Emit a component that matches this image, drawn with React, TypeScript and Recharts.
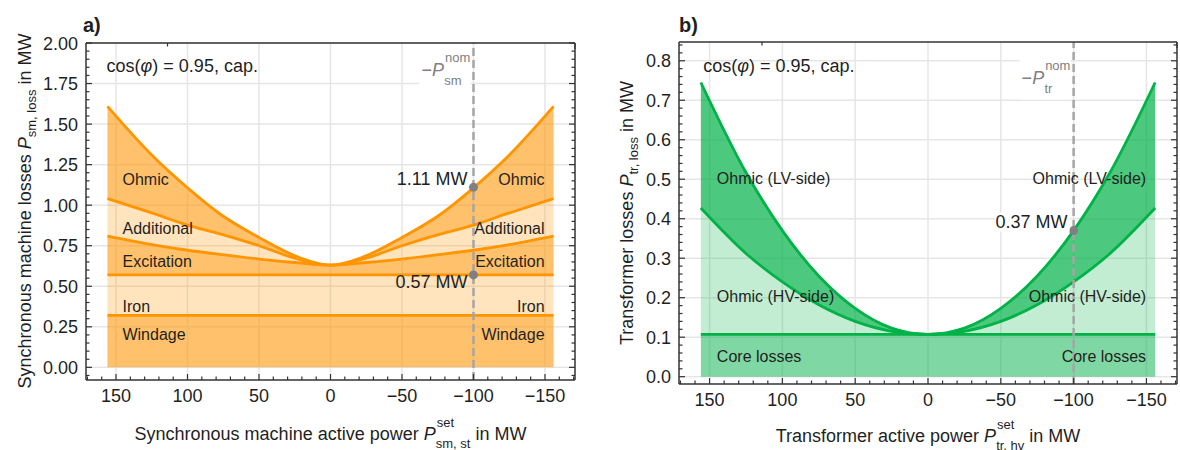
import { Area, AreaChart, CartesianGrid, ReferenceDot, ReferenceLine, XAxis, YAxis } from "recharts";

const FONT = '"Liberation Sans", Arial, Helvetica, sans-serif';
const INK = "#1f1f1f";
const FRAME = "#333333";
const GRID = "#e6e6e6";
const ORANGE = "#ff9500";
const GREEN = "#00b247";
const MARK = "#808080";

// a) synchronous machine losses (MW)
const smPower = [156, 124, 100, 76, 50, 23, 0, -23, -50, -76, -100, -124, -156];
const smWindage = [0.32, 0.32, 0.32, 0.32, 0.32, 0.32, 0.32, 0.32, 0.32, 0.32, 0.32, 0.32, 0.32];
const smIron = [0.25, 0.25, 0.25, 0.25, 0.25, 0.25, 0.25, 0.25, 0.25, 0.25, 0.25, 0.25, 0.25];
const smExcitation = [0.239, 0.185, 0.152, 0.125, 0.098, 0.075, 0.06, 0.075, 0.098, 0.125, 0.152, 0.185, 0.239];
const smAdditional = [0.232, 0.194, 0.155, 0.125, 0.082, 0.023, 0, 0.023, 0.082, 0.125, 0.155, 0.194, 0.232];
const smOhmic = [0.568, 0.351, 0.23, 0.118, 0.051, 0.013, 0, 0.013, 0.051, 0.118, 0.23, 0.351, 0.568];

// b) transformer losses (MW)
const trPower = [156, 125, 100, 75, 50, 25, 0, -25, -50, -75, -100, -125, -156];
const trCore = [0.107, 0.107, 0.107, 0.107, 0.107, 0.107, 0.107, 0.107, 0.107, 0.107, 0.107, 0.107, 0.107];
const trOhmicHv = [0.32, 0.205, 0.133, 0.075, 0.033, 0.008, 0, 0.008, 0.033, 0.075, 0.133, 0.205, 0.32];
const trOhmicLv = [0.318, 0.205, 0.13, 0.073, 0.033, 0.008, 0, 0.008, 0.033, 0.073, 0.13, 0.205, 0.318];

// axes
const xMajor = [150, 100, 50, 0, -50, -100, -150];
const smYMajor = [0, 0.25, 0.5, 0.75, 1, 1.25, 1.5, 1.75, 2];
const trYMajor = [0, 0.1, 0.2, 0.3, 0.4, 0.5, 0.6, 0.7, 0.8];
const nominalPower = -100;
const smNominalLoss = 1.11;
const smNoLoadLoss = 0.57;
const trNominalLoss = 0.37;

const range = (a: number, b: number, step: number) => {
  const out: number[] = [];
  for (let i = 0; a + i * step <= b + 1e-9; i++) out.push(+(a + i * step).toFixed(4));
  return out;
};
const xTicks = range(-170, 170, 10);
const smYTicks = range(-0.05, 2, 0.05);
const trYTicks = range(0, 0.84, 0.02);

const smRows = smPower.map((p, i) => ({
  p,
  windage: smWindage[i],
  iron: smIron[i],
  excitation: smExcitation[i],
  additional: smAdditional[i],
  ohmic: smOhmic[i],
}));

const trRows = trPower.map((p, i) => ({
  p,
  core: trCore[i],
  hv: trOhmicHv[i],
  lv: trOhmicLv[i],
}));

type TickCfg = { side: "bottom" | "top" | "left" | "right"; major: number; digits?: number; text?: boolean };

function renderTick(props: any, cfg: TickCfg) {
  const { x, y, payload } = props;
  const v = payload.value as number;
  const isMajor = Math.abs(v / cfg.major - Math.round(v / cfg.major)) < 1e-6;
  const len = isMajor ? 6 : 3.5;
  const line = { stroke: FRAME, strokeWidth: 1.2 };
  if (cfg.side === "bottom") {
    const label = v < 0 ? "\u2212" + Math.abs(v) : String(v);
    return (
      <g>
        <line x1={x} x2={x} y1={y} y2={y - len} {...line} />
        {cfg.text && isMajor && (
          <text x={x} y={y + 22} textAnchor="middle" fontSize={18} fontFamily={FONT} fill={INK}>
            {label}
          </text>
        )}
      </g>
    );
  }
  if (cfg.side === "top") return <line x1={x} x2={x} y1={y} y2={y + len} {...line} />;
  if (cfg.side === "right") return <line x1={x} x2={x - len} y1={y} y2={y} {...line} />;
  return (
    <g>
      <line x1={x} x2={x + len} y1={y} y2={y} {...line} />
      {cfg.text && isMajor && (
        <text x={x - 8} y={y + 6.5} textAnchor="end" fontSize={18} fontFamily={FONT} fill={INK}>
          {v.toFixed(cfg.digits ?? 2)}
        </text>
      )}
    </g>
  );
}

function centre(viewBox: any) {
  return { cx: viewBox.x + (viewBox.width || 0) / 2, cy: viewBox.y + (viewBox.height || 0) / 2 };
}

function Note(props: any) {
  const { viewBox, t, anchor = "start", ox = 0, oy = 0, size = 16, box = false } = props;
  const { cx, cy } = centre(viewBox);
  const w = t.length * size * 0.56;
  const left = anchor === "end" ? cx + ox - w : cx + ox;
  return (
    <g>
      {box && <rect x={left - 2} y={cy + oy - size * 0.85} width={w + 4} height={size * 1.05} fill="#fff" />}
      <text x={cx + ox} y={cy + oy} textAnchor={anchor} fontSize={size} fontFamily={FONT} fill={INK}>
        {t}
      </text>
    </g>
  );
}

function CosNote(props: any) {
  const { cx, cy } = centre(props.viewBox);
  return (
    <text x={cx} y={cy} fontSize={18} fontFamily={FONT} fill={INK}>
      cos(<tspan fontStyle="italic">φ</tspan>){" = 0.95, cap."}
    </text>
  );
}

function NomNote(props: any) {
  const { viewBox, sub } = props;
  const { cx, cy } = centre(viewBox);
  const x = cx - 52;
  return (
    <g>
      <rect x={x - 2} y={cy - 25} width={51} height={40} fill="#fff" />
      <text x={x} y={cy} fontSize={18} fontFamily={FONT} fill={MARK}>
        {"\u2212"}
        <tspan fontStyle="italic">P</tspan>
        <tspan fontSize={13} dx={1} dy={-14}>
          nom
        </tspan>
        <tspan fontSize={13} dx={-26} dy={22.5}>
          {sub}
        </tspan>
      </text>
    </g>
  );
}

const axisLine = { stroke: FRAME, strokeWidth: 1.5 };
const noDot = { r: 0 };

function MachinePanel() {
  const xDomain = [-171, 171];
  const yDomain = [-0.078, 2];
  return (
    <AreaChart width={598} height={450} data={smRows} margin={{ top: 0, right: 0, bottom: 0, left: 0 }}>
      <CartesianGrid stroke={GRID} strokeWidth={1.5} verticalValues={xMajor} horizontalValues={smYMajor} />
      <XAxis
        dataKey="p"
        type="number"
        domain={xDomain}
        reversed
        allowDataOverflow
        ticks={xTicks}
        interval={0}
        height={70}
        tickSize={0}
        tickMargin={0}
        axisLine={axisLine}
        tickLine={false}
        tick={(p: any) => renderTick(p, { side: "bottom", major: 50, text: true })}
      />
      <XAxis
        xAxisId="top"
        orientation="top"
        type="number"
        domain={xDomain}
        reversed
        allowDataOverflow
        ticks={xTicks}
        interval={0}
        height={43}
        tickSize={0}
        tickMargin={0}
        axisLine={axisLine}
        tickLine={false}
        tick={(p: any) => renderTick(p, { side: "top", major: 50 })}
      />
      <YAxis
        type="number"
        domain={yDomain}
        allowDataOverflow
        ticks={smYTicks}
        interval={0}
        width={86}
        tickSize={0}
        tickMargin={0}
        axisLine={axisLine}
        tickLine={false}
        tick={(p: any) => renderTick(p, { side: "left", major: 0.25, digits: 2, text: true })}
      />
      <YAxis
        yAxisId="right"
        orientation="right"
        type="number"
        domain={yDomain}
        allowDataOverflow
        ticks={smYTicks}
        interval={0}
        width={23}
        tickSize={0}
        tickMargin={0}
        axisLine={axisLine}
        tickLine={false}
        tick={(p: any) => renderTick(p, { side: "right", major: 0.25 })}
      />
      <Area type="monotone" dataKey="windage" stackId="sm" stroke={ORANGE} strokeWidth={2.8} fill={ORANGE} fillOpacity={0.58} activeDot={false} dot={false} isAnimationActive={false} />
      <Area type="monotone" dataKey="iron" stackId="sm" stroke={ORANGE} strokeWidth={2.8} fill={ORANGE} fillOpacity={0.26} activeDot={false} dot={false} isAnimationActive={false} />
      <Area type="monotone" dataKey="excitation" stackId="sm" stroke={ORANGE} strokeWidth={2.8} fill={ORANGE} fillOpacity={0.58} activeDot={false} dot={false} isAnimationActive={false} />
      <Area type="monotone" dataKey="additional" stackId="sm" stroke={ORANGE} strokeWidth={2.8} fill={ORANGE} fillOpacity={0.26} activeDot={false} dot={false} isAnimationActive={false} />
      <Area type="monotone" dataKey="ohmic" stackId="sm" stroke={ORANGE} strokeWidth={2.8} fill={ORANGE} fillOpacity={0.58} activeDot={false} dot={false} isAnimationActive={false} />
      <ReferenceLine x={nominalPower} stroke="#a6a6a6" strokeWidth={2.5} strokeDasharray="8 4" />
      <ReferenceDot x={nominalPower} y={1.795} {...noDot} stroke="none" fill="none" label={<NomNote sub="sm" />} />
      <ReferenceDot x={nominalPower} y={smNominalLoss} r={4.5} fill={MARK} stroke="none" label={<Note t="1.11 MW" anchor="end" ox={-6} oy={-2} size={18} />} />
      <ReferenceDot x={nominalPower} y={smNoLoadLoss} r={4.5} fill={MARK} stroke="none" label={<Note t="0.57 MW" anchor="end" ox={-6} oy={13} size={18} />} />
      <ReferenceDot x={156.6} y={1.82} {...noDot} stroke="none" fill="none" label={<CosNote />} />
      <ReferenceDot x={145.5} y={1.123} {...noDot} stroke="none" fill="none" label={<Note t="Ohmic" />} />
      <ReferenceDot x={145.5} y={0.821} {...noDot} stroke="none" fill="none" label={<Note t="Additional" />} />
      <ReferenceDot x={145.5} y={0.62} {...noDot} stroke="none" fill="none" label={<Note t="Excitation" />} />
      <ReferenceDot x={145.5} y={0.344} {...noDot} stroke="none" fill="none" label={<Note t="Iron" />} />
      <ReferenceDot x={145.5} y={0.169} {...noDot} stroke="none" fill="none" label={<Note t="Windage" />} />
      <ReferenceDot x={-149.7} y={1.123} {...noDot} stroke="none" fill="none" label={<Note t="Ohmic" anchor="end" />} />
      <ReferenceDot x={-149.7} y={0.821} {...noDot} stroke="none" fill="none" label={<Note t="Additional" anchor="end" />} />
      <ReferenceDot x={-149.7} y={0.62} {...noDot} stroke="none" fill="none" label={<Note t="Excitation" anchor="end" />} />
      <ReferenceDot x={-149.7} y={0.344} {...noDot} stroke="none" fill="none" label={<Note t="Iron" anchor="end" />} />
      <ReferenceDot x={-149.7} y={0.169} {...noDot} stroke="none" fill="none" label={<Note t="Windage" anchor="end" />} />
    </AreaChart>
  );
}

function TransformerPanel() {
  const xDomain = [-171, 171];
  const yDomain = [-0.0185, 0.8475];
  return (
    <AreaChart width={582} height={450} data={trRows} margin={{ top: 0, right: 0, bottom: 0, left: 0 }}>
      <CartesianGrid stroke={GRID} strokeWidth={1.5} verticalValues={xMajor} horizontalValues={trYMajor} />
      <XAxis
        dataKey="p"
        type="number"
        domain={xDomain}
        reversed
        allowDataOverflow
        ticks={xTicks}
        interval={0}
        height={66}
        tickSize={0}
        tickMargin={0}
        axisLine={axisLine}
        tickLine={false}
        tick={(p: any) => renderTick(p, { side: "bottom", major: 50, text: true })}
      />
      <XAxis
        xAxisId="top"
        orientation="top"
        type="number"
        domain={xDomain}
        reversed
        allowDataOverflow
        ticks={xTicks}
        interval={0}
        height={42}
        tickSize={0}
        tickMargin={0}
        axisLine={axisLine}
        tickLine={false}
        tick={(p: any) => renderTick(p, { side: "top", major: 50 })}
      />
      <YAxis
        type="number"
        domain={yDomain}
        allowDataOverflow
        ticks={trYTicks}
        interval={0}
        width={81}
        tickSize={0}
        tickMargin={0}
        axisLine={axisLine}
        tickLine={false}
        tick={(p: any) => renderTick(p, { side: "left", major: 0.1, digits: 1, text: true })}
      />
      <YAxis
        yAxisId="right"
        orientation="right"
        type="number"
        domain={yDomain}
        allowDataOverflow
        ticks={trYTicks}
        interval={0}
        width={3}
        tickSize={0}
        tickMargin={0}
        axisLine={axisLine}
        tickLine={false}
        tick={(p: any) => renderTick(p, { side: "right", major: 0.1 })}
      />
      <Area type="monotone" dataKey="core" stackId="tr" stroke={GREEN} strokeWidth={2.8} fill={GREEN} fillOpacity={0.5} activeDot={false} dot={false} isAnimationActive={false} />
      <Area type="monotone" dataKey="hv" stackId="tr" stroke={GREEN} strokeWidth={2.8} fill={GREEN} fillOpacity={0.24} activeDot={false} dot={false} isAnimationActive={false} />
      <Area type="monotone" dataKey="lv" stackId="tr" stroke={GREEN} strokeWidth={2.8} fill={GREEN} fillOpacity={0.7} activeDot={false} dot={false} isAnimationActive={false} />
      <ReferenceLine x={nominalPower} stroke="#a6a6a6" strokeWidth={2.5} strokeDasharray="8 4" />
      <ReferenceDot x={nominalPower} y={0.74} {...noDot} stroke="none" fill="none" label={<NomNote sub="tr" />} />
      <ReferenceDot x={nominalPower} y={trNominalLoss} r={4.5} fill={MARK} stroke="none" label={<Note t="0.37 MW" anchor="end" ox={-6} oy={-2.5} size={18} box />} />
      <ReferenceDot x={154.4} y={0.771} {...noDot} stroke="none" fill="none" label={<CosNote />} />
      <ReferenceDot x={145} y={0.488} {...noDot} stroke="none" fill="none" label={<Note t="Ohmic (LV-side)" />} />
      <ReferenceDot x={145} y={0.189} {...noDot} stroke="none" fill="none" label={<Note t="Ohmic (HV-side)" />} />
      <ReferenceDot x={145} y={0.038} {...noDot} stroke="none" fill="none" label={<Note t="Core losses" />} />
      <ReferenceDot x={-149.8} y={0.488} {...noDot} stroke="none" fill="none" label={<Note t="Ohmic (LV-side)" anchor="end" />} />
      <ReferenceDot x={-149.8} y={0.189} {...noDot} stroke="none" fill="none" label={<Note t="Ohmic (HV-side)" anchor="end" />} />
      <ReferenceDot x={-149.8} y={0.038} {...noDot} stroke="none" fill="none" label={<Note t="Core losses" anchor="end" />} />
    </AreaChart>
  );
}

function Titles() {
  const txt = { fontSize: 18, fontFamily: FONT, fill: INK };
  return (
    <svg width={1180} height={450} style={{ position: "absolute", left: 0, top: 0, pointerEvents: "none" }}>
      <text x={83} y={32} fontSize={20} fontWeight="bold" fontFamily={FONT} fill={INK}>a)</text>
      <text x={679} y={32} fontSize={20} fontWeight="bold" fontFamily={FONT} fill={INK}>b)</text>
      <text x={31} y={211} transform="rotate(-90 31 211)" textAnchor="middle" {...txt}>
        {"Synchronous machine losses "}
        <tspan fontStyle="italic">P</tspan>
        <tspan fontSize={13} dy={5}>sm, loss</tspan>
        <tspan dy={-5}>{" in MW"}</tspan>
      </text>
      <text x={633} y={213} transform="rotate(-90 633 213)" textAnchor="middle" {...txt}>
        {"Transformer losses "}
        <tspan fontStyle="italic">P</tspan>
        <tspan fontSize={13} dy={5}>tr, loss</tspan>
        <tspan dy={-5}>{" in MW"}</tspan>
      </text>
      <text x={330.5} y={440} textAnchor="middle" {...txt}>
        {"Synchronous machine active power "}
        <tspan fontStyle="italic">P</tspan>
        <tspan fontSize={13} dx={1} dy={-13}>set</tspan>
        <tspan fontSize={13} dx={-18.3} dy={21}>sm, st</tspan>
        <tspan dy={-8}>{" in MW"}</tspan>
      </text>
      <text x={928} y={442} textAnchor="middle" {...txt}>
        {"Transformer active power "}
        <tspan fontStyle="italic">P</tspan>
        <tspan fontSize={13} dx={1} dy={-13}>set</tspan>
        <tspan fontSize={13} dx={-18.3} dy={21}>tr, hv</tspan>
        <tspan dy={-8}>{" in MW"}</tspan>
      </text>
    </svg>
  );
}

export default function App() {
  return (
    <div style={{ position: "absolute", left: 0, top: 0, width: 1180, height: 450, overflow: "hidden", background: "#fff" }}>
      <div style={{ position: "absolute", left: 0, top: 0 }}>
        <MachinePanel />
      </div>
      <div style={{ position: "absolute", left: 598, top: 0 }}>
        <TransformerPanel />
      </div>
      <Titles />
    </div>
  );
}
